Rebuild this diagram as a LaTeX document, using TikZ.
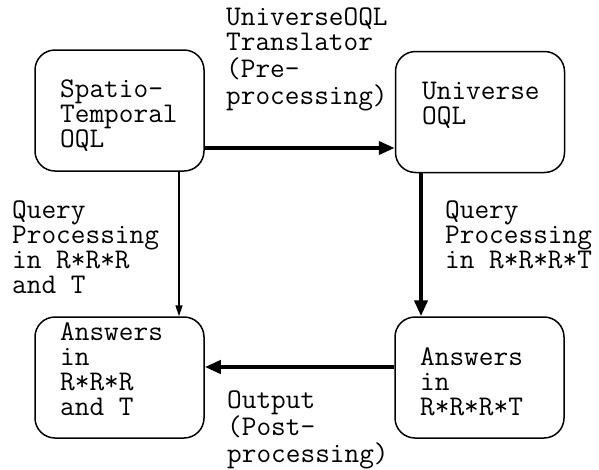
\documentclass[tikz,border=0pt]{standalone}
\usetikzlibrary{arrows.meta}
\newcommand{\ml}[1]{\begin{tabular}[t]{@{}l@{}}#1\end{tabular}}
\begin{document}
\begin{tikzpicture}[x=1pt,y=-1pt,
  font=\ttfamily\fontsize{28.5}{25}\selectfont,
  box/.style={draw, line width=1.5pt, rounded corners=20pt, minimum width=169pt, minimum height=121pt, inner sep=0pt},
  lbl/.style={anchor=base west, inner sep=0pt},
  thin/.style={line width=1.5pt, -{Triangle[length=11pt,width=7pt]}},
  bold/.style={line width=4pt, -{Triangle[length=16pt,width=13pt]}}]
\useasboundingbox (0,0) rectangle (599,469);
\node[box] (A) at (119.5,110.5) {};
\node[box] (B) at (480,112) {};
\node[box] (C) at (119.5,377.5) {};
\node[box] (D) at (479.5,377.5) {};
\node[lbl] (tA) at (60,97) {\ml{Spatio-\\Temporal\\OQL}};
\node[lbl] (tB) at (422,99) {\ml{Universe\\OQL}};
\node[lbl] (tC) at (60,340) {\ml{Answers\\in\\R*R*R\\and T}};
\node[lbl] (tD) at (420,365) {\ml{Answers\\in\\R*R*R*T}};
\node[lbl] (l1) at (226,25) {\ml{UniverseOQL\\Translator\\(Pre-\\processing)}};
\node[lbl] (l2) at (12,218) {\ml{Query\\Processing\\in R*R*R\\and T}};
\node[lbl] (l3) at (445,218) {\ml{Query\\Processing\\in R*R*R*T}};
\node[lbl] (l4) at (227,408) {\ml{Output\\(Post-\\processing)}};
\draw[bold] (A.east |- 0,148) -- (B.west |- 0,148);
\draw[thin] (A.south -| 179,0) -- (C.north -| 179,0);
\draw[bold] (B.south -| 421,0) -- (D.north -| 421,0);
\draw[bold] (D.west |- 0,367) -- (C.east |- 0,367);
\end{tikzpicture}
\end{document}
